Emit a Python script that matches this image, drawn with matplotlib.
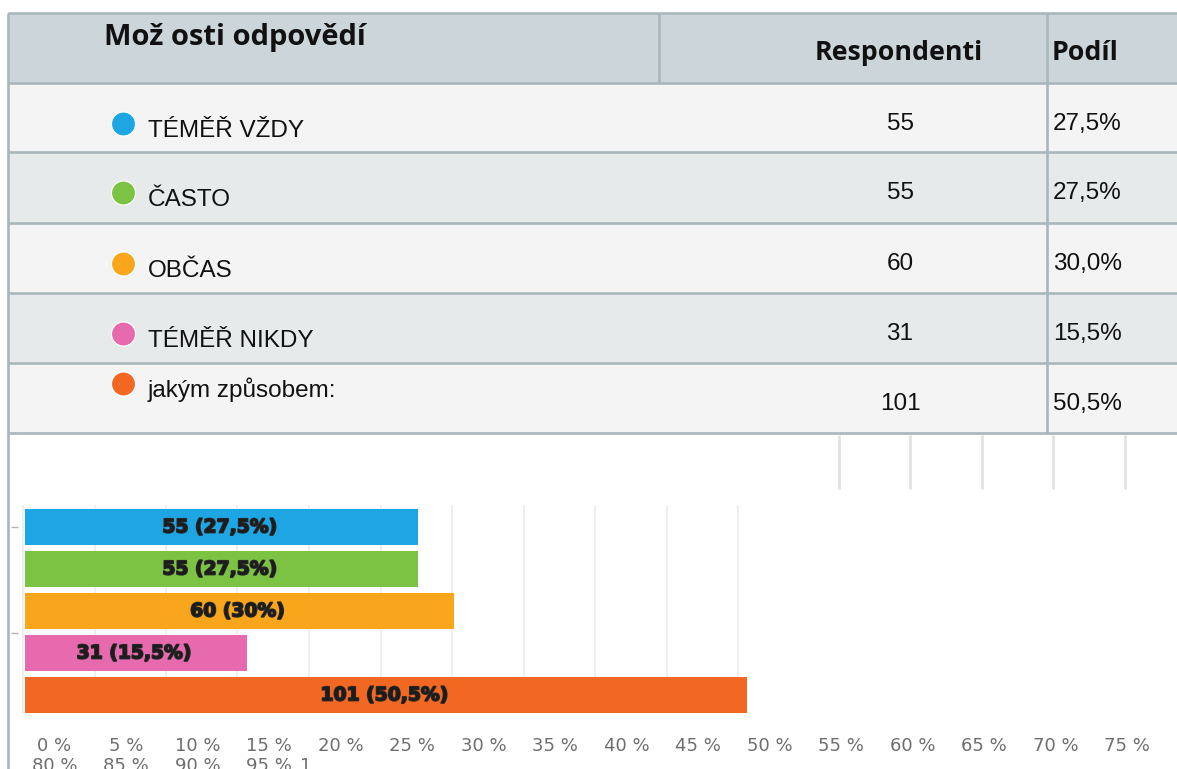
import matplotlib
matplotlib.use("Agg")
import matplotlib.pyplot as plt
import matplotlib.patheffects as pe
from matplotlib.patches import Rectangle, Circle

# survey data
options = ["TÉMĚŘ VŽDY", "ČASTO", "OBČAS", "TÉMĚŘ NIKDY", "jakým způsobem:"]
respondents = [55, 55, 60, 31, 101]
shares = [27.5, 27.5, 30.0, 15.5, 50.5]
colors = ["#1ea6e4", "#7cc243", "#f9a61c", "#e76aae", "#f26722"]
header_labels = ["Mož osti odpovědí", "Respondenti", "Podíl"]
ticks_line1 = [0, 5, 10, 15, 20, 25, 30, 35, 40, 45, 50, 55, 60, 65, 70, 75]
ticks_line2 = [80, 85, 90, 95]
grid_ticks = [0, 5, 10, 15, 20, 25, 30, 35, 40, 45, 50]
stub_ticks = [55, 60, 65, 70, 75]


def cz(v, fmt):
    return format(v, fmt).replace(".", ",")


W, H = 1177, 769
fig = plt.figure(figsize=(W / 100, H / 100), dpi=100)
fig.patch.set_facecolor("white")

# ---- table (pixel coordinates) ----
bg = fig.add_axes([0, 0, 1, 1])
bg.set_xlim(0, W)
bg.set_ylim(H, 0)
bg.axis("off")

line_c = "#a9b7bd"
x0 = 8
head_top, head_bot = 13, 83
row_edges = [83, 152, 223, 293, 363, 433]

bg.add_patch(Rectangle((x0, head_top), W - x0, head_bot - head_top, fc="#ccd5d9", ec="none"))
for i in range(len(options)):
    fc = "#f4f4f4" if i % 2 == 0 else "#e7eaeb"
    bg.add_patch(Rectangle((x0, row_edges[i]), W - x0, row_edges[i + 1] - row_edges[i], fc=fc, ec="none"))

for y in [head_top] + row_edges:
    bg.plot([x0, W], [y, y], color=line_c, lw=1.9, solid_capstyle="butt")
bg.plot([x0, x0], [head_top, H], color=line_c, lw=1.9, solid_capstyle="butt")
bg.plot([1047, 1047], [head_top, row_edges[-1]], color=line_c, lw=1.9, solid_capstyle="butt")
bg.plot([659, 659], [head_top, head_bot], color=line_c, lw=1.9, solid_capstyle="butt")

head_font = dict(family=["Open Sans", "DejaVu Sans"], weight="bold", color="#111111", va="baseline")
bg.text(104, 45, header_labels[0], fontsize=21, **head_font)
bg.text(815, 60, header_labels[1], fontsize=19.3, **head_font)
bg.text(1052, 60, header_labels[2], fontsize=19.3, **head_font)

row_font = dict(family=["Liberation Sans Narrow", "Liberation Sans", "DejaVu Sans"],
                fontsize=17.5, color="#111111", va="baseline")
for i, (opt, n, s) in enumerate(zip(options, respondents, shares)):
    top = row_edges[i]
    label_base = top + (54 if i < 4 else 34)
    bg.add_patch(Circle((123.5, label_base - 13), 12, fc=colors[i], ec="white", lw=0.8))
    bg.text(148, label_base, opt, ha="left", **row_font)
    bg.text(900, top + 47, str(n), ha="center", **row_font)
    bg.text(1053, top + 47, cz(s, ".1f") + "%", ha="left", **row_font)

# ---- bar chart ----
ZERO_PX, PX_PER_PCT = 23, 14.3
CAT0_PX, CAT_STEP = 527, 42
top_px = 433
ax = fig.add_axes([x0 / W, 0, (W - x0) / W, (H - top_px) / H])
ax.patch.set_alpha(0)
ax.set_xlim((x0 - ZERO_PX) / PX_PER_PCT, (W - ZERO_PX) / PX_PER_PCT)
ax.set_ylim((H - CAT0_PX) / CAT_STEP, (top_px - CAT0_PX) / CAT_STEP)
for side in ["top", "right", "bottom", "left"]:
    ax.spines[side].set_visible(False)
ax.set_xticks([])
ax.set_yticks([])

ypos = list(range(len(shares)))
ax.vlines(grid_ticks, -0.52, 4.43, color="#ececec", lw=1.2, zorder=0)
ax.vlines([t + 2.05 for t in stub_ticks], -2.2, -0.9, color="#e2e2e2", lw=2, zorder=0)
ax.hlines([0, 2.52], -0.85, -0.35, color="#b5b5b5", lw=1)

ax.barh(ypos, shares, height=0.88, left=0.15, color=colors, edgecolor="none", zorder=2)
for y, n, s in zip(ypos, respondents, shares):
    ax.text(s / 2, y, f"{n} ({cz(s, 'g')}%)", ha="center", va="center",
            fontsize=13.5, weight="bold", color="#1c1c1c", zorder=3,
            path_effects=[pe.withStroke(linewidth=1.3, foreground="#2a2a2a")])

tick_font = dict(ha="center", va="center", fontsize=13, color="#6e6e6e", clip_on=False)
for t in ticks_line1:
    ax.text(t + 2.2, 5.21, f"{t} %", **tick_font)
last = None
for k, t in enumerate(ticks_line2):
    last = ax.text(ticks_line1[k] + 2.2, 5.69, f"{t} %", **tick_font)
ax.annotate("1", xy=(1, 0.5), xycoords=last, xytext=(6, 0), textcoords="offset points",
            ha="left", va="center", fontsize=13, color="#6e6e6e")

fig.savefig("out.png", dpi=100)
